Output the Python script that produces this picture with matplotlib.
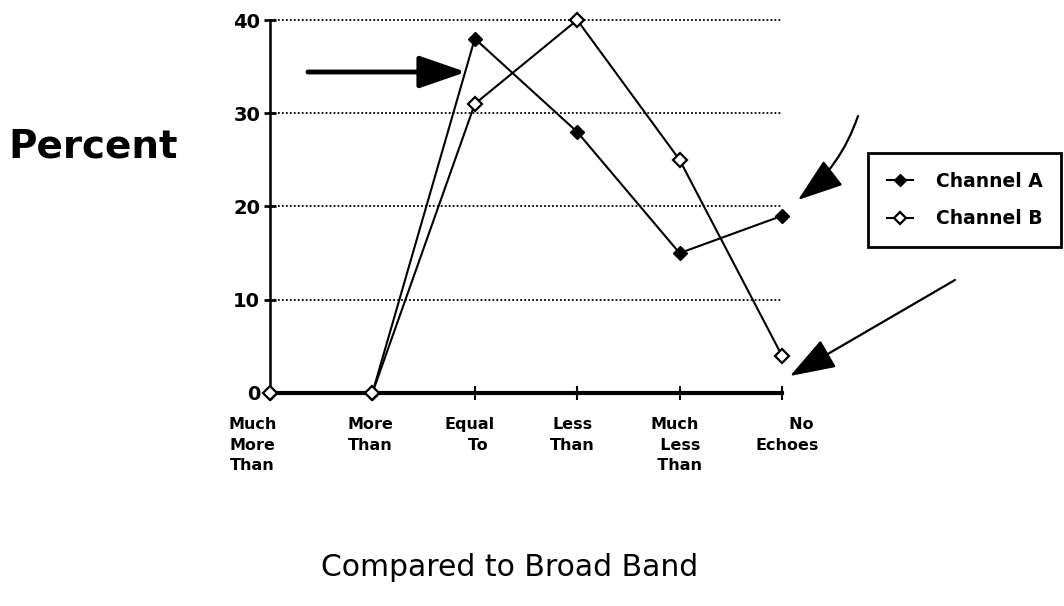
import numpy as np
import matplotlib.pyplot as plt

categories = ["Much\nMore\nThan", "More\nThan", "Equal\n   To", "Less\nThan",
              "Much\n  Less\n  Than", "     No\nEchoes"]
channel_a = [0, 0, 38, 28, 15, 19]
channel_b = [0, 0, 31, 40, 25, 4]
yticks = [0, 10, 20, 30, 40]

plt.rcParams['font.family'] = ['DejaVu Sans']

fig = plt.figure(figsize=(10.64, 6.06), dpi=100)
ax = fig.add_axes([270 / 1064, 1 - 393 / 606, 512 / 1064, 373 / 606])

x = np.arange(len(categories))
ax.plot(x, channel_a, color='black', lw=1.5, marker='D', ms=7.5,
        mfc='black', mec='black', clip_on=False, zorder=3, label='Channel A')
ax.plot(x, channel_b, color='black', lw=1.5, marker='D', ms=7.5,
        mfc='white', mec='black', mew=1.6, clip_on=False, zorder=4,
        label='Channel B')

# dotted grid
for yv in yticks[1:]:
    ax.plot([0, 5], [yv, yv], color='black', lw=1.3, ls=(0, (1, 1.2)),
            clip_on=False, zorder=1)

ax.set_xlim(0, 5)
ax.set_ylim(0, 40)
ax.spines['top'].set_visible(False)
ax.spines['right'].set_visible(False)
ax.spines['left'].set_linewidth(1.8)
ax.spines['bottom'].set_linewidth(3)
ax.set_yticks(yticks)
ax.set_yticklabels([str(v) for v in yticks], fontsize=14, fontweight='bold')
ax.tick_params(axis='y', direction='inout', length=8, width=2, pad=3)
ax.set_xticks(x)
ax.set_xticklabels([])
ax.tick_params(axis='x', direction='inout', length=10, width=1.5)

# category labels under the axis
label_shift = [-0.17, -0.02, -0.05, -0.05, -0.05, 0.05]
for i, lab in enumerate(categories):
    ax.text(x[i] + label_shift[i], -2.6, lab, ha='center', va='top',
            fontsize=11.5, fontweight='bold', linespacing=1.45)

fig.text(8 / 1064, 1 - 146 / 606, "Percent", fontsize=28, fontweight='bold',
         va='center', ha='left')
fig.text(510 / 1064, 1 - 568 / 606, "Compared to Broad Band", fontsize=21.5,
         fontweight='medium', va='center', ha='center')

leg = fig.legend(loc='upper left', bbox_to_anchor=(868 / 1064, 1 - 153 / 606),
                 borderaxespad=0, frameon=True, fancybox=False, edgecolor='black',
                 framealpha=1, handlelength=1.4,
                 prop={'weight': 'bold', 'size': 13.5},
                 borderpad=1.0, labelspacing=1.0, handletextpad=1.2,
                 markerscale=0.8)
leg.get_frame().set_linewidth(2)

# arrows
arrow_kw = dict(arrowstyle='-|>,head_length=1.3,head_width=0.45', color='black',
                lw=3.5, mutation_scale=22, shrinkA=0, shrinkB=0)
ax.annotate('', xy=(466, 606 - 72), xytext=(308, 606 - 72),
            xycoords='figure pixels', textcoords='figure pixels',
            arrowprops=arrow_kw)
ax.annotate('', xy=(798, 606 - 200), xytext=(858, 606 - 116),
            xycoords='figure pixels', textcoords='figure pixels',
            arrowprops=dict(arrow_kw, lw=1.6, connectionstyle='arc3,rad=-0.15'))
ax.annotate('', xy=(790, 606 - 376), xytext=(955, 606 - 280),
            xycoords='figure pixels', textcoords='figure pixels',
            arrowprops=dict(arrow_kw, lw=1.6))

fig.savefig('out.png', dpi=100)
